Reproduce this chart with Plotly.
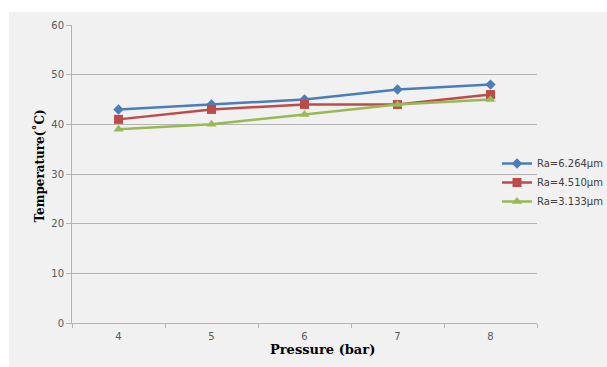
import plotly.graph_objects as go

# Outlet temperature vs. supply pressure for three surface roughness values
pressure = ["4", "5", "6", "7", "8"]
ra_6264 = [43, 44, 45, 47, 48]
ra_4510 = [41, 43, 44, 44, 46]
ra_3133 = [39, 40, 42, 44, 45]

series_names = ["Ra=6.264μm", "Ra=4.510μm", "Ra=3.133μm"]
series_vals = [ra_6264, ra_4510, ra_3133]
colors = ["#4a7ebb", "#be4b48", "#98b954"]
symbols = ["diamond", "square", "triangle-up"]
sizes = [8, 9, 9]

W, H = 607, 367
L, R, T, B = 72, 70, 25, 44
pw, ph = W - L - R, H - T - B

fig = go.Figure()
for name, vals, c, s, sz in zip(series_names, series_vals, colors, symbols, sizes):
    fig.add_trace(go.Scatter(
        x=pressure, y=vals, name=name, mode="lines+markers",
        line=dict(color=c, width=2.5),
        marker=dict(symbol=s, size=sz, color=c),
    ))

bg = "#f1f1f1"
grid = "#b4b4b4"
tickfont = dict(family="DejaVu Sans", size=10, color="#595959")


def px_x(p):
    return (p - L) / pw


def px_y(p):
    return (H - B - p) / ph


fig.update_layout(
    width=W, height=H,
    margin=dict(l=L, r=R, t=T, b=B, autoexpand=False),
    paper_bgcolor="white",
    plot_bgcolor=bg,
    showlegend=True,
    legend=dict(
        x=px_x(497), y=px_y(149), xanchor="left", yanchor="top",
        bgcolor="rgba(0,0,0,0)", borderwidth=0,
        font=dict(family="DejaVu Sans", size=10, color="#404040"),
        tracegroupgap=0,
    ),
    xaxis=dict(
        type="category", tickson="boundaries", ticks="outside", ticklen=4,
        range=[-0.5, 4.5], ticklabelstandoff=4,
        tickcolor=grid, showline=True, linecolor=grid, linewidth=1,
        showgrid=False, tickfont=tickfont, zeroline=False,
    ),
    yaxis=dict(
        range=[0, 60], dtick=10, ticks="outside", ticklen=5, tickcolor=grid,
        showline=True, linecolor=grid, linewidth=1, showgrid=True,
        gridcolor=grid, gridwidth=1, tickfont=tickfont, zeroline=False,
    ),
    shapes=[dict(
        type="rect", xref="paper", yref="paper", layer="below",
        x0=px_x(9), x1=px_x(W + 5), y0=px_y(H + 5), y1=px_y(12),
        fillcolor=bg, line=dict(width=0),
    )],
    annotations=[
        dict(text="<b>Pressure (bar)</b>", xref="paper", yref="paper",
             x=px_x(322), y=px_y(359), showarrow=False,
             font=dict(family="DejaVu Serif", size=13, color="black")),
        dict(text="<b>Temperature(˚C)</b>", xref="paper", yref="paper",
             x=px_x(29), y=px_y(166), showarrow=False, textangle=-90,
             font=dict(family="DejaVu Serif", size=12, color="black")),
    ],
)

fig.write_html("out.html")
